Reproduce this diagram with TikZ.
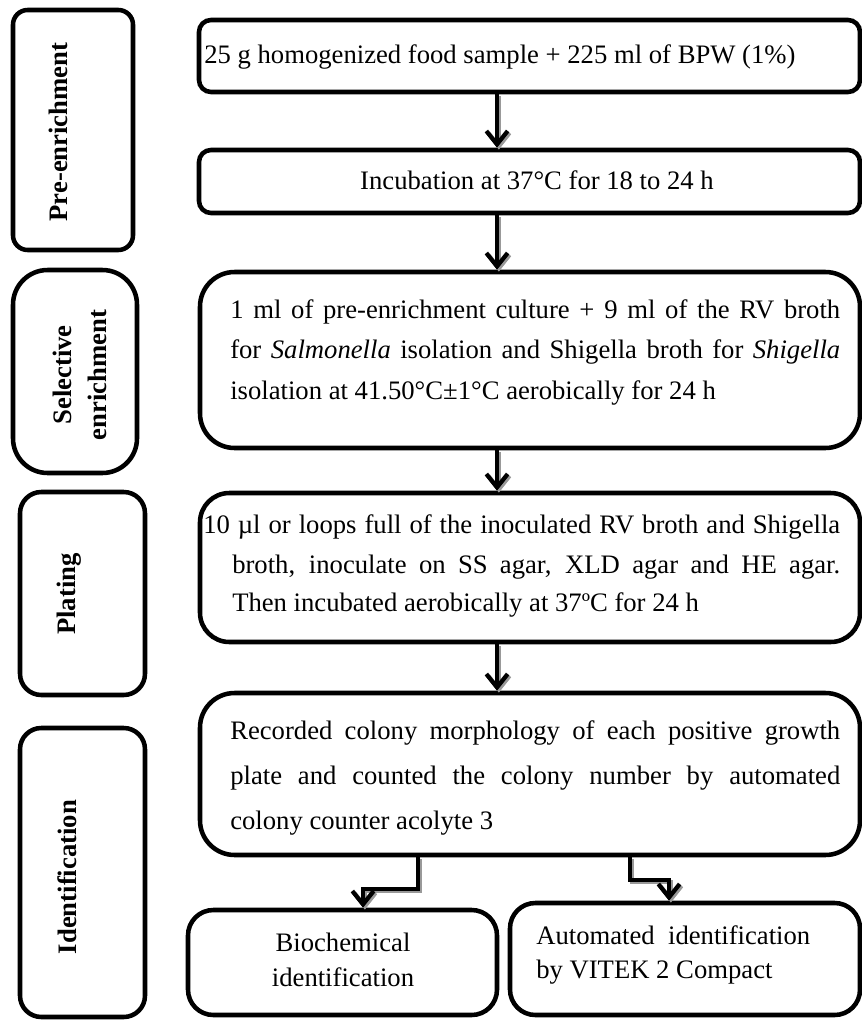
\documentclass[tikz,border=0pt]{standalone}
\usepackage{fontspec}
\setmainfont{Liberation Serif}
\usetikzlibrary{arrows.meta}
\tikzset{
  bx/.style={draw, line width=3.4pt, rectangle, inner sep=0pt},
  lbl/.style={font=\fontsize{20}{26}\selectfont\bfseries, rotate=90, align=center, inner sep=0pt},
  txt/.style={font=\fontsize{20}{26}\selectfont, inner sep=0pt},
  arr/.style={line width=3pt, -{Straight Barb[length=10pt,width=16pt,line width=3.2pt]}},
  arrsh/.style={arr, draw=black!40, transform canvas={shift={(1.4pt,-1.4pt)}}},
}
\newcommand\jl[2]{\makebox[#1][s]{#2}}
\begin{document}
\begin{tikzpicture}[x=0.75pt,y=-0.75pt]
\useasboundingbox (0,0) rectangle (862,1021);
% left label boxes
\node[bx, rounded corners=11pt, minimum width=90pt, minimum height=180pt] (pre) at (73,130) {};
\node[bx, rounded corners=26pt, minimum width=93pt, minimum height=152.25pt] (sel) at (75,371.5) {};
\node[bx, rounded corners=16pt, minimum width=93.75pt, minimum height=152.25pt] (pla) at (82.5,593.5) {};
\node[bx, rounded corners=16pt, minimum width=93.75pt, minimum height=216.75pt] (idn) at (82.5,872.5) {};
\node[lbl] (preT) at (58,132) {Pre-enrichment};
\node[lbl] (selT) at (80,375) {Selective\\enrichment};
\node[lbl] (plaT) at (69,594) {Plating};
\node[lbl] (idnT) at (67,877) {Identification};
% main boxes
\node[bx, rounded corners=9pt, minimum width=495.75pt, minimum height=54pt] (b1) at (529.5,56) {};
\node[bx, rounded corners=9pt, minimum width=495.75pt, minimum height=47.25pt] (b2) at (529.5,181.5) {};
\node[bx, rounded corners=26pt, minimum width=495pt, minimum height=132pt] (b3) at (530,360) {};
\node[bx, rounded corners=22pt, minimum width=495pt, minimum height=111.75pt] (b4) at (530,567.5) {};
\node[bx, rounded corners=26pt, minimum width=495pt, minimum height=121.5pt] (b5) at (530,774) {};
\node[bx, rounded corners=19pt, minimum width=231.75pt, minimum height=78.75pt] (bio) at (342.5,962.5) {};
\node[bx, rounded corners=19pt, minimum width=262.5pt, minimum height=84pt] (vit) at (685,959) {};
% texts
\node[txt, anchor=base west] (t1) at (204,63) {25 g homogenized food sample + 225 ml of BPW (1\%)};
\node[txt, anchor=base] (t2) at (537,189) {Incubation at 37°C for 18 to 24 h};
\node[txt, anchor=base west] (t3a) at (230,318) {\jl{457.5pt}{1 ml of pre-enrichment culture + 9 ml of the RV broth}};
\node[txt, anchor=base west] (t3b) at (230,358) {\jl{457.5pt}{for \textit{Salmonella} isolation and Shigella broth for \textit{Shigella}}};
\node[txt, anchor=base west] (t3c) at (230,399) {isolation at 41.50°C±1°C aerobically for 24 h};
\node[txt, anchor=base west] (t4a) at (203,533) {\jl{477.75pt}{10 µl or loops full of the inoculated RV broth and Shigella}};
\node[txt, anchor=base west] (t4b) at (232,573) {\jl{456pt}{broth, inoculate on SS agar, XLD agar and HE agar.}};
\node[txt, anchor=base west] (t4c) at (232,611) {Then incubated aerobically at 37ºC for 24 h};
\node[txt, anchor=base west] (t5a) at (230,739) {\jl{457.5pt}{Recorded colony morphology of each positive growth}};
\node[txt, anchor=base west] (t5b) at (230,784) {\jl{457.5pt}{plate and counted the colony number by automated}};
\node[txt, anchor=base west] (t5c) at (230,829) {colony counter acolyte 3};
\node[txt, align=center] (tbio) at (343,960) {Biochemical\\identification};
\node[txt, align=left, anchor=west] (tvit) at (536,955) {Automated\ \ identification\\by VITEK 2 Compact};
% connectors
\coordinate (ax) at (497,0);
\coordinate (bl) at (418,0);
\coordinate (bm) at (363,0);
\coordinate (yl) at (0,889);
\coordinate (br) at (630,0);
\coordinate (bn) at (669,0);
\coordinate (yr) at (0,880);
\foreach \a/\b in {b1/b2,b2/b3,b3/b4,b4/b5}{
  \draw[arrsh] (\a.south -| ax) -- (\b.north -| ax);
  \draw[arr] (\a.south -| ax) -- (\b.north -| ax);
}
\draw[arrsh] (b5.south -| bl) -- (bl |- yl) -- (bm |- yl) -- (bio.north -| bm);
\draw[arr] (b5.south -| bl) -- (bl |- yl) -- (bm |- yl) -- (bio.north -| bm);
\draw[arrsh] (b5.south -| br) -- (br |- yr) -- (bn |- yr) -- (vit.north -| bn);
\draw[arr] (b5.south -| br) -- (br |- yr) -- (bn |- yr) -- (vit.north -| bn);
\end{tikzpicture}
\end{document}
